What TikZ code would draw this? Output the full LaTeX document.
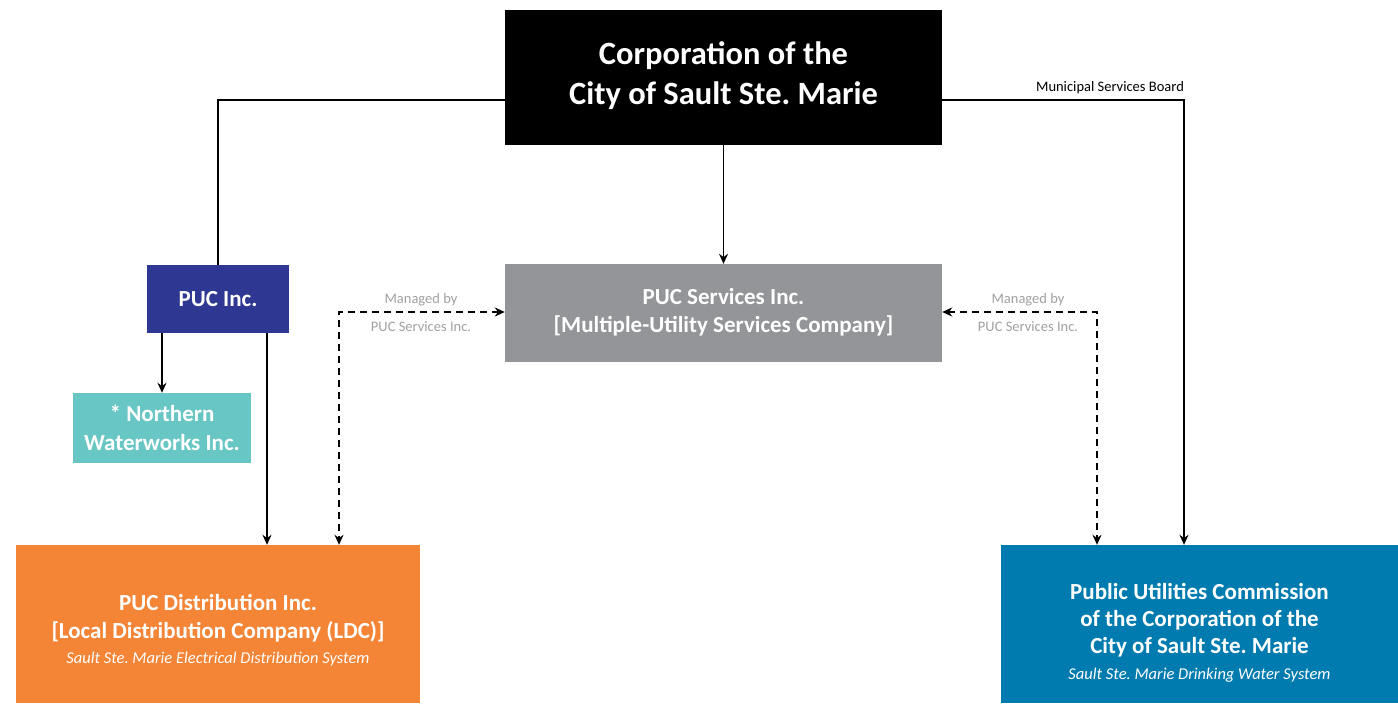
\documentclass[tikz,border=0pt]{standalone}
\usepackage{fontspec}
\setmainfont{Carlito}
\usetikzlibrary{arrows.meta}
\definecolor{cblack}{HTML}{000000}
\definecolor{cnavy}{HTML}{2E3791}
\definecolor{cteal}{HTML}{68C6C5}
\definecolor{cgrey}{HTML}{939598}
\definecolor{corange}{HTML}{F48436}
\definecolor{cblue}{HTML}{007BAF}
\definecolor{clabel}{HTML}{A0A0A0}
\begin{document}
\frenchspacing
\begin{tikzpicture}[x=1pt,y=-1pt,
  box/.style={rectangle, inner sep=0pt},
  txt/.style={inner sep=0pt, text=white, align=center, font=\bfseries\fontsize{23}{28}\selectfont},
  conn/.style={line width=1.5pt, draw=black},
  arr/.style={conn, -{Stealth[length=10pt,width=9pt]}},
  darr/.style={conn, dash pattern=on 7pt off 5pt, {Stealth[length=10pt,width=9pt]}-{Stealth[length=10pt,width=9pt]}},
  lbl/.style={text=clabel, font=\fontsize{14.5}{17}\selectfont, inner sep=0pt}
]
\useasboundingbox (0,0) rectangle (1398,704);

\node[box, fill=cblack, minimum width=437pt, minimum height=135pt] (top) at (723.5,77.5) {};
\node[box, fill=cnavy, minimum width=142pt, minimum height=68pt] (pucinc) at (218,299) {};
\node[box, fill=cteal, minimum width=178pt, minimum height=70pt] (nww) at (162,428) {};
\node[box, fill=cgrey, minimum width=437pt, minimum height=98pt] (svc) at (723.5,313) {};
\node[box, fill=corange, minimum width=404pt, minimum height=158pt] (dist) at (218,624) {};
\node[box, fill=cblue, minimum width=397pt, minimum height=158pt] (puc) at (1199.5,624) {};

\node[txt, font=\bfseries\fontsize{32.5}{40}\selectfont] (topT) at ([yshift=2pt]top.center) {Corporation of the\\City of Sault Ste. Marie};
\node[txt] (pucincT) at (pucinc.center) {PUC Inc.};
\node[txt, font=\bfseries\fontsize{23}{29}\selectfont] (nwwT) at (nww.center) {* Northern\\Waterworks Inc.};
\node[txt] (svcT) at ([yshift=1pt]svc.center) {PUC Services Inc.\\{[}Multiple-Utility Services Company{]}};
\node[txt] (distT) at ([yshift=-6pt]dist.center) {PUC Distribution Inc.\\{[}Local Distribution Company (LDC){]}\\[-3pt]{\mdseries\itshape\fontsize{16.5}{20}\selectfont Sault Ste. Marie Electrical Distribution System}};
\node[txt, font=\bfseries\fontsize{23}{27}\selectfont] (pucT) at ([yshift=-8.5pt]puc.center) {Public Utilities Commission\\of the Corporation of the\\City of Sault Ste. Marie\\[-1pt]{\mdseries\itshape\fontsize{16.5}{20}\selectfont Sault Ste. Marie Drinking Water System}};

\coordinate (tl) at (218,100);
\coordinate (tr) at (1184,100);
\coordinate (dl) at (339,312);
\coordinate (dr) at (1097,312);

\draw[conn] (top.west |- tl) -- (tl) -- (pucinc.north);
\draw[arr] (top.east |- tr) -- (tr) -- (tr |- puc.north);
\draw[arr] (top.south) -- (svc.north);
\draw[arr] ([xshift=-56pt]pucinc.south) -- ([xshift=-56pt]pucinc.south |- nww.north);
\draw[arr] ([xshift=49pt]pucinc.south) -- ([xshift=49pt]pucinc.south |- dist.north);
\draw[darr] (svc.west |- dl) -- (dl) -- (dl |- dist.north);
\draw[darr] (svc.east |- dr) -- (dr) -- (dr |- puc.north);

\node[lbl, text=black] (msb) at (1110,88) {Municipal Services Board};
\node[lbl] (m1a) at (421,300) {Managed by};
\node[lbl] (m1b) at (421,327) {PUC Services Inc.};
\node[lbl] (m2a) at (1028,300) {Managed by};
\node[lbl] (m2b) at (1028,327) {PUC Services Inc.};
\end{tikzpicture}
\end{document}
